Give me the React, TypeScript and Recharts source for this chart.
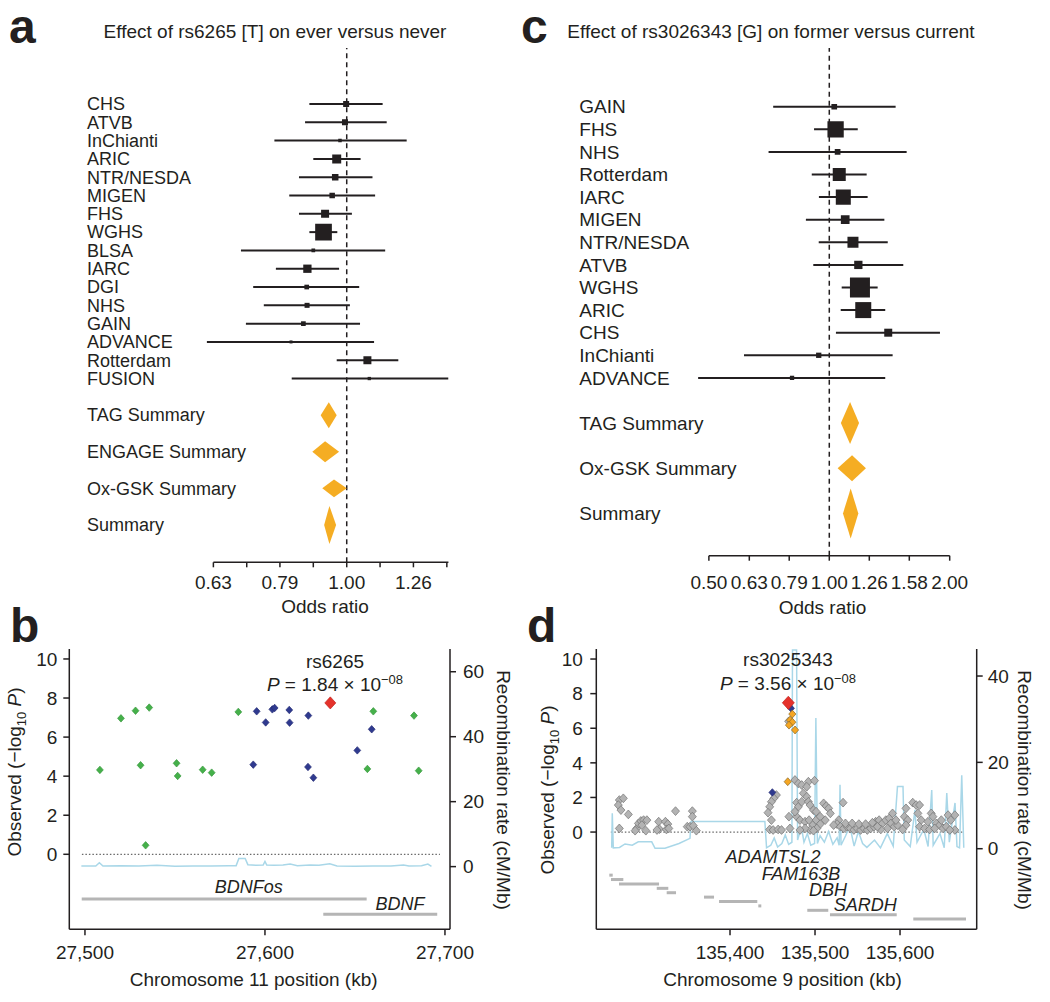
import React from 'react';
import {
  ScatterChart, ComposedChart, Scatter, Line, XAxis, YAxis, ZAxis,
  ErrorBar, ReferenceLine,
} from 'recharts';

const FONT = '"Liberation Sans", Arial, Helvetica, sans-serif';
const FS = 19;
const INK = '#231f20';
const GOLD = '#f5ad23';
const GENE = '#b5b5b5';
const RECOMB = '#a9d7e8';

// ---- panel a: rs6265 [T], ever vs never ----
const studiesA = ['CHS', 'ATVB', 'InChianti', 'ARIC', 'NTR/NESDA', 'MIGEN', 'FHS', 'WGHS', 'BLSA', 'IARC', 'DGI', 'NHS', 'GAIN', 'ADVANCE', 'Rotterdam', 'FUSION'];
const orA = [0.998, 0.994, 0.977, 0.966, 0.961, 0.951, 0.928, 0.923, 0.891, 0.873, 0.871, 0.872, 0.861, 0.825, 1.074, 1.081];
const loA = [0.879, 0.866, 0.779, 0.891, 0.848, 0.82, 0.848, 0.879, 0.694, 0.783, 0.724, 0.751, 0.706, 0.617, 0.966, 0.827];
const hiA = [1.132, 1.148, 1.23, 1.049, 1.093, 1.103, 1.018, 0.968, 1.142, 0.974, 1.044, 1.011, 1.047, 1.099, 1.195, 1.42];
const weightA = [12.9, 12.9, 4.4, 29, 15.2, 10.8, 22.9, 100, 4.9, 24.7, 7.9, 9, 7.9, 3.2, 22.9, 3.9];
const summaryA = ['TAG Summary', 'ENGAGE Summary', 'Ox-GSK Summary', 'Summary'];
const sumOrA = [0.94, 0.928, 0.957, 0.942];
const sumLoA = [0.914, 0.888, 0.919, 0.925];
const sumHiA = [0.966, 0.974, 1.0, 0.964];
const sumSpanA = [1.42, 1.15, 0.98, 2.08];
const ticksA = [0.631, 0.708, 0.794, 0.891, 1, 1.122, 1.259, 1.413];
const tickLabelsA = ['0.63', '', '0.79', '', '1.00', '', '1.26', ''];

// ---- panel c: rs3026343 [G], former vs current ----
const studiesC = ['GAIN', 'FHS', 'NHS', 'Rotterdam', 'IARC', 'MIGEN', 'NTR/NESDA', 'ATVB', 'WGHS', 'ARIC', 'CHS', 'InChianti', 'ADVANCE'];
const orC = [1.029, 1.037, 1.049, 1.059, 1.084, 1.096, 1.146, 1.182, 1.193, 1.216, 1.404, 0.941, 0.807];
const loC = [0.724, 0.916, 0.705, 0.904, 0.942, 0.874, 0.941, 0.912, 1.074, 1.068, 1.039, 0.612, 0.47];
const hiC = [1.465, 1.178, 1.561, 1.24, 1.247, 1.373, 1.4, 1.531, 1.321, 1.38, 1.891, 1.44, 1.38];
const weightC = [8.1, 66.4, 8.1, 42.3, 56.3, 18.9, 30.3, 17.2, 100, 64, 16, 7, 4.6];
const summaryC = ['TAG Summary', 'Ox-GSK Summary', 'Summary'];
const sumOrC = [1.127, 1.14, 1.131];
const sumLoC = [1.069, 1.049, 1.082];
const sumHiC = [1.187, 1.235, 1.182];
const sumSpanC = [1.86, 1.15, 2.21];
const ticksC = [0.5, 0.631, 0.794, 1, 1.259, 1.585, 2];
const tickLabelsC = ['0.50', '0.63', '0.79', '1.00', '1.26', '1.58', '2.00'];

// ---- panel b: chromosome 11 region ----
const greenKbB = [27508.3, 27520, 27528.1, 27535.7, 27530.9, 27533.7, 27550.9, 27551.5, 27565.4, 27570.4, 27585.2, 27660.2, 27656.9, 27682.8, 27685.4];
const greenPB = [4.32, 6.96, 7.35, 7.51, 4.56, 0.46, 4.66, 4.01, 4.33, 4.18, 7.29, 7.32, 4.37, 7.1, 4.28];
const blueKbB = [27595.4, 27600.4, 27604.1, 27605.4, 27613.5, 27613.7, 27624.1, 27593.5, 27623.9, 27626.9, 27651.3, 27659.3];
const bluePB = [7.32, 6.75, 7.42, 7.49, 7.39, 6.74, 7.1, 4.59, 4.47, 3.92, 5.32, 6.4];
const leadKbB = [27636.3];
const leadPB = [7.75];
const recKbB = [27498, 27506, 27508, 27510, 27520, 27530, 27540, 27550, 27560, 27570, 27580, 27584, 27585.5, 27589, 27590.5, 27595, 27599, 27600, 27601, 27605, 27610, 27614, 27618, 27625, 27630, 27636, 27640, 27650, 27660, 27670, 27677, 27680, 27687, 27690.5, 27692.5];
const recRateB = [0.2, 0.2, 1.2, 0.2, 0.3, 0.2, 0.4, 0.1, 0.2, 0.2, 0.3, 0.3, 2.5, 2.5, 0.6, 0.4, 0.5, 1.6, 0.5, 0.4, 0.5, 0.8, 0.3, 0.5, 0.4, 0.9, 0.2, 0.1, 0.2, 0.2, 0.5, 0.2, 0.3, 0.8, 0.1];
const genesB = [
  { name: 'BDNFos', start: 27498.2, end: 27656.5, row: 0, labelKb: 27591, labelP: -1.66 },
  { name: 'BDNF', start: 27632.4, end: 27695.7, row: 1, labelKb: 27675, labelP: -2.54 },
];
const regionB: [number, number] = [27498.3, 27697.2];

// ---- panel d: chromosome 9 region ----
const grayKbD = [
  135269.8, 135274.5, 135268.6, 135271.7, 135280.4, 135269.8, 135290.3, 135292.3, 135295.1, 135298.3, 135302.2, 135296.3, 135301.0, 135316.1,
  135316.9, 135314.1, 135324.0, 135326.8, 135325.2, 135328.0, 135335.9, 135349.7, 135352.9, 135355.7, 135355.7, 135356.8, 135360.4, 135288.4,
  135454.6, 135451.5, 135448.7, 135446.7, 135444.7, 135448.7, 135446.7, 135450.7, 135456.6, 135460.6, 135469.3, 135470.5, 135469.0,
  135476.4, 135480.4, 135484.3, 135492.2, 135499.4, 135490.3, 135486.3, 135478.4, 135480.4, 135484.3, 135490.3, 135492.2, 135494.2,
  135498.2, 135501.3, 135478.4, 135476.4, 135482.3, 135488.3, 135493.0, 135497.4, 135501.3, 135506.1, 135510.1, 135513.2, 135516.0,
  135518.0, 135512.0, 135506.1, 135502.1, 135494.2, 135488.3, 135482.3, 135498.2,
  135527.9, 135533.0, 135525.9, 135529.9, 135521.9, 135533.8, 135537.8, 135541.7, 135545.7, 135549.6, 135553.6, 135557.6, 135561.5,
  135565.5, 135569.4, 135571.4, 135575.4, 135579.3, 135583.3, 135587.3, 135591.2, 135589.2, 135593.2, 135597.1, 135595.2, 135585.3,
  135577.4, 135607.0, 135605.1, 135609.0, 135607.0, 135603.1, 135615.0, 135619.0, 135623.0, 135621.0, 135624.9, 135623.0, 135628.9,
  135632.8, 135636.7, 135638.7, 135642.7, 135646.6, 135648.6, 135650.6, 135654.5, 135656.5, 135659.7, 135664.5, 135664.5, 135658.5,
  135634.8, 135640.8, 135535.8, 135543.7, 135551.6, 135559.5, 135567.5, 135573.4,
];
const grayPD = [
  1.85, 1.95, 1.56, 1.27, 1.02, 0.21, 0.21, 0.5, 0.64, 0.69, 0.69, 0.4, 0.08, 0.6,
  0.17, 0.12, 0.6, 0.46, 0.15, 0.21, 1.21, 0.31, 0.31, 1.21, 0.89, 0.37, 0.08, 0.08,
  2.14, 1.95, 1.75, 1.46, 1.12, 0.69, 0.15, 0.12, 0.15, 0.12, 0.89, 0.21, 6.4,
  3.01, 2.81, 2.72, 2.91, 2.97, 2.62, 2.24, 1.7, 1.46, 1.75, 2.04, 1.75, 1.56,
  1.27, 1.18, 0.89, 1.18, 0.69, 0.6, 0.69, 0.4, 0.69, 0.89, 1.66, 1.5, 1.37,
  1.08, 0.69, 0.46, 0.21, 0.12, 0.21, 0.12, 0.08,
  0.69, 1.7, 0.46, 0.31, 0.4, 0.21, 0.31, 0.21, 0.12, 0.21, 0.12, 0.21, 0.12,
  0.21, 0.31, 0.6, 0.69, 0.5, 0.69, 0.79, 1.08, 0.5, 0.31, 0.4, 0.69, 0.21,
  0.15, 1.37, 0.89, 0.69, 0.4, 0.15, 1.7, 1.56, 1.56, 1.08, 0.69, 0.31, 0.21,
  0.6, 1.08, 0.89, 0.5, 0.4, 0.69, 0.21, 0.31, 0.98, 0.69, 0.98, 0.12, 0.12,
  0.15, 0.21, 0.5, 0.5, 0.46, 0.46, 0.54, 0.31,
];
const orangeKbD = [135473.3, 135470.6, 135473.3, 135469.4, 135476.5, 135467.9];
const orangePD = [6.82, 6.47, 6.35, 6.18, 5.9, 2.91];
const blueKbD = [135471.8, 135449.8];
const bluePD = [7.15, 2.29];
const leadKbD = [135468.6];
const leadPD = [7.47];
const recKbD = [
  135260.8, 135261.5, 135262.7, 135270, 135276.5, 135285, 135292.1, 135307.9, 135311.8, 135323.5, 135340, 135352.9, 135354.1, 135441,
  135443, 135448, 135452, 135456, 135461, 135465, 135469, 135472.8, 135473.5, 135478.3, 135479.5, 135484, 135487, 135491, 135495,
  135499.5, 135501, 135502.8, 135506, 135511, 135516, 135521, 135526, 135528.4, 135529.4, 135530.6, 135536, 135541, 135546, 135551,
  135556, 135561, 135570, 135577, 135585, 135592, 135597, 135603.5, 135605, 135612, 135617.6, 135620, 135628, 135633, 135637.3,
  135639, 135647, 135652, 135655, 135658, 135664.7, 135667, 135670, 135672.6, 135675,
];
const recRateD = [
  0.2, 8.2, 0.2, 0.3, 1.1, 0.8, 1.6, 1.6, 0.1, 0.1, 1.2, 2.4, 6.3, 6.3,
  0.2, 0.8, 2.5, 0.4, 1.2, 3.2, 1, 1.5, 46, 46, 2, 5, 1.5, 3.5, 0.8,
  1.2, 30.3, 1.2, 3, 1.5, 4, 1, 2.5, 0.8, 14.8, 0.8, 3, 5.2, 0.6, 4,
  1.2, 0.3, 2, 0.2, 3.5, 0.6, 14.4, 14.4, 2, 0.5, 9, 1.5, 4.5, 0.5, 13.6,
  0.8, 3.5, 0.2, 12.9, 1.5, 10.6, 0.5, 0.2, 17, 0.2,
];
const genesD = [
  { start: 135258.0, end: 135262.0, row: 0 },
  { start: 135260.0, end: 135274.5, row: 1 },
  { start: 135269.4, end: 135316.5, row: 2 },
  { start: 135313.8, end: 135327.4, row: 3 },
  { start: 135325.5, end: 135336.5, row: 4 },
  { start: 135369.4, end: 135381.2, row: 5 },
  { start: 135387.1, end: 135432.1, row: 6 },
  { start: 135433.3, end: 135436.8, row: 7 },
  { start: 135490.9, end: 135515.6, row: 8 },
  { start: 135517.6, end: 135596.1, row: 9 },
  { start: 135615.6, end: 135677.6, row: 10 },
];
const geneNamesD = ['ADAMTSL2', 'FAM163B', 'DBH', 'SARDH'];
const geneLabelKbD = [135450.7, 135483.5, 135515.2, 135559];
const geneLabelPD = [-1.45, -2.39, -3.35, -4.18];
const regionD: [number, number] = [135259.8, 135675.6];

const zip = (kb: number[], p: number[]) => kb.map((k, i) => ({ kb: k, p: p[i] }));

const diamondPath = (lp: any) => {
  const pts = (lp.points || []) as { x: number; y: number }[];
  if (!pts.length) return <g />;
  return <path d={'M' + pts.map((q) => `${q.x},${q.y}`).join('L') + 'Z'} fill={GOLD} stroke="none" />;
};

const snpShape = (fill: string, stroke: string, r: number) => (s: any) => (
  <polygon
    points={`${s.cx},${s.cy - r * 1.1} ${s.cx + r},${s.cy} ${s.cx},${s.cy + r * 1.1} ${s.cx - r},${s.cy}`}
    fill={fill}
    stroke={stroke}
    strokeWidth={0.7}
  />
);

const geneText = (s: any) => (
  <text x={s.cx} y={s.cy} dy="0.35em" textAnchor="middle" fontSize={18} fontStyle="italic" fill={INK} fontFamily={FONT}>
    {s.payload?.name ?? s.name}
  </text>
);

type ForestProps = {
  names: string[]; or: number[]; lo: number[]; hi: number[]; weight: number[];
  sumNames: string[]; sumOr: number[]; sumLo: number[]; sumHi: number[]; sumSpan: number[];
  ticks: number[]; tickLabels: string[]; axisFrom: number; axisTo: number;
  width: number; height: number; labelWidth: number; labelX: number; right: number; bottom: number;
  xDomain: [number, number]; yDomain: [number, number]; zMax: number; tickGap: number; titleOffset: number;
  rowFont: number;
};

function Forest(p: ForestProps) {
  const rows = p.names.map((name, i) => ({
    name, row: i, or: p.or[i], err: [p.or[i] - p.lo[i], p.hi[i] - p.or[i]], w: p.weight[i],
  }));
  const sumRows = p.sumNames.map((name, j) => ({ name, row: p.names.length - 1 + 2 * (j + 1) }));
  const diamonds = sumRows.map((s, j) => [
    { or: p.sumLo[j], row: s.row },
    { or: p.sumOr[j], row: s.row - p.sumSpan[j] / 2 },
    { or: p.sumHi[j], row: s.row },
    { or: p.sumOr[j], row: s.row + p.sumSpan[j] / 2 },
  ]);
  const labelOf = new Map<number, string>();
  [...rows, ...sumRows].forEach((r) => labelOf.set(r.row, r.name));
  const rowTicks = Array.from(labelOf.keys());
  const yBottom = p.yDomain[1];
  const axisText = { fontSize: FS, fill: INK, fontFamily: FONT };

  return (
    <ScatterChart width={p.width} height={p.height} margin={{ top: 48, right: p.right, bottom: p.bottom, left: 0 }}>
      <XAxis
        type="number" dataKey="or" scale="log" domain={p.xDomain} allowDataOverflow
        ticks={p.ticks} interval={0} tickFormatter={(_v: number, i: number) => p.tickLabels[i]}
        axisLine={false} tickSize={5} tickMargin={p.tickGap}
        tickLine={{ stroke: INK, strokeWidth: 1.5 }} tick={axisText} height={60}
        label={{ value: 'Odds ratio', position: 'insideBottom', offset: p.titleOffset, ...axisText }}
      />
      <YAxis
        type="number" dataKey="row" domain={p.yDomain} reversed allowDataOverflow
        ticks={rowTicks} interval={0} width={p.labelWidth} axisLine={false} tickLine={false}
        tick={(t: any) => (
          <text x={p.labelX} y={t.y} dy="0.35em" fontSize={p.rowFont} fill={INK} fontFamily={FONT}>
            {labelOf.get(t.payload.value)}
          </text>
        )}
      />
      <ZAxis type="number" dataKey="w" domain={[0, 100]} range={[0, p.zMax]} />
      <ReferenceLine x={1} stroke={INK} strokeWidth={1.5} strokeDasharray="5 4" />
      <ReferenceLine
        segment={[{ x: p.axisFrom, y: yBottom }, { x: p.axisTo, y: yBottom }]}
        stroke={INK} strokeWidth={1.5} ifOverflow="visible"
      />
      <Scatter data={rows} dataKey="or" fill={INK} shape="square" isAnimationActive={false}>
        <ErrorBar dataKey="err" direction="x" width={0} stroke={INK} strokeWidth={2} isAnimationActive={false} />
      </Scatter>
      {diamonds.map((d, j) => (
        <Scatter key={j} data={d} dataKey="or" isAnimationActive={false} shape={() => <g />} line={diamondPath} />
      ))}
    </ScatterChart>
  );
}

type Group = { data: { kb: number; p: number }[]; fill: string; stroke: string; r: number };
type LocusProps = {
  width: number; height: number; leftW: number; rightW: number;
  xDomain: [number, number]; xTicks: number[]; leftDomain: [number, number];
  rightDomain: [number, number]; rightTicks: number[];
  groups: Group[]; recomb: { kb: number; rate: number }[];
  genes: { start: number; end: number; row: number }[]; geneTop: number; geneStep: number;
  geneLabels: { name: string; kb: number; p: number }[];
  region: [number, number]; xTitle: string; titleDx: number; leftGap: number; rightGap: number;
};

function Locus(p: LocusProps) {
  const axisText = { fontSize: FS, fill: INK, fontFamily: FONT };
  const axisLine = { stroke: INK, strokeWidth: 1.5 };
  return (
    <ComposedChart width={p.width} height={p.height} margin={{ top: 29, right: 0, bottom: 0, left: 0 }}>
      <XAxis
        type="number" dataKey="kb" domain={p.xDomain} allowDataOverflow ticks={p.xTicks} interval={0}
        tickFormatter={(v: number) => v.toLocaleString('en-US')} tickSize={6} tickMargin={10}
        height={p.height - 29 - 280.3} axisLine={axisLine} tickLine={axisLine} tick={axisText}
        label={{ value: p.xTitle, position: 'insideBottom', offset: 16, dx: p.titleDx, ...axisText }}
      />
      <YAxis
        yAxisId="left" type="number" domain={p.leftDomain} allowDataOverflow ticks={[0, 2, 4, 6, 8, 10]}
        interval={0} width={p.leftW} tickSize={6} tickMargin={p.leftGap} axisLine={axisLine} tickLine={axisLine} tick={axisText}
      />
      <YAxis
        yAxisId="right" orientation="right" type="number" domain={p.rightDomain} allowDataOverflow
        ticks={p.rightTicks} interval={0} width={p.rightW} tickSize={6} tickMargin={p.rightGap}
        axisLine={axisLine} tickLine={axisLine} tick={axisText}
      />
      <ReferenceLine
        yAxisId="left" segment={[{ x: p.region[0], y: 0 }, { x: p.region[1], y: 0 }]}
        stroke="#6a6a6a" strokeWidth={1.2} strokeDasharray="1.5 2"
      />
      {p.genes.map((g, i) => (
        <ReferenceLine
          key={i} yAxisId="left"
          segment={[{ x: g.start, y: p.geneTop - p.geneStep * g.row }, { x: g.end, y: p.geneTop - p.geneStep * g.row }]}
          stroke={GENE} strokeWidth={3}
        />
      ))}
      <Line
        data={p.recomb} dataKey="rate" yAxisId="right" type="linear" stroke={RECOMB} strokeWidth={1.5}
        dot={false} activeDot={false} isAnimationActive={false}
      />
      {p.groups.map((g, i) => (
        <Scatter key={i} data={g.data} dataKey="p" yAxisId="left" shape={snpShape(g.fill, g.stroke, g.r)} isAnimationActive={false} />
      ))}
      <Scatter data={p.geneLabels} dataKey="p" yAxisId="left" shape={geneText} isAnimationActive={false} />
    </ComposedChart>
  );
}

const Abs = ({ x, y, children, style }: { x: number; y: number; children: React.ReactNode; style?: React.CSSProperties }) => (
  <div style={{ position: 'absolute', left: x, top: y, whiteSpace: 'nowrap', ...style }}>{children}</div>
);

const Centered = ({ x, y, angle = 0, size = FS, children }: { x: number; y: number; angle?: number; size?: number; children: React.ReactNode }) => (
  <div
    style={{
      position: 'absolute', left: x, top: y, whiteSpace: 'nowrap', fontSize: size, lineHeight: `${size + 4}px`,
      transform: `translate(-50%, -50%) rotate(${angle}deg)`,
    }}
  >
    {children}
  </div>
);

const Letter = ({ x, y, children }: { x: number; y: number; children: React.ReactNode }) => (
  <Abs x={x} y={y} style={{ fontSize: 48, fontWeight: 700, lineHeight: '54px' }}>{children}</Abs>
);

const Observed = () => (
  <span>Observed (−log<sub style={{ fontSize: 13 }}>10</sub> <i>P</i>)</span>
);

const PValue = ({ v }: { v: string }) => (
  <span><i>P</i> = {v} × 10<sup style={{ fontSize: 13 }}>−08</sup></span>
);

export default function App() {
  const recombB = recKbB.map((k, i) => ({ kb: k, rate: recRateB[i] }));
  const recombD = recKbD.map((k, i) => ({ kb: k, rate: recRateD[i] }));
  const groupsB: Group[] = [
    { data: zip(greenKbB, greenPB), fill: '#45b04a', stroke: '#3a9a3f', r: 3.4 },
    { data: zip(blueKbB, bluePB), fill: '#2f3a8f', stroke: '#252d75', r: 3.4 },
    { data: zip(leadKbB, leadPB), fill: '#e5322b', stroke: '#c22520', r: 5.5 },
  ];
  const groupsD: Group[] = [
    { data: zip(grayKbD, grayPD), fill: '#b3b3b3', stroke: '#737373', r: 4 },
    { data: zip(blueKbD, bluePD), fill: '#2f3a8f', stroke: '#252d75', r: 3.4 },
    { data: zip(orangeKbD, orangePD), fill: '#f5a623', stroke: '#8a6a2a', r: 3.6 },
    { data: zip(leadKbD, leadPD), fill: '#e5322b', stroke: '#c22520', r: 6 },
  ];
  const labelsB = genesB.map((g) => ({ name: g.name, kb: g.labelKb, p: g.labelP }));
  const labelsD = geneNamesD.map((n, i) => ({ name: n, kb: geneLabelKbD[i], p: geneLabelPD[i] }));

  return (
    <div
      style={{
        position: 'absolute', left: 0, top: 0, width: 1050, height: 1002, background: '#fff',
        fontFamily: FONT, color: INK, overflow: 'hidden',
      }}
    >
      <Abs x={0} y={0}>
        <Forest
          names={studiesA} or={orA} lo={loA} hi={hiA} weight={weightA}
          sumNames={summaryA} sumOr={sumOrA} sumLo={sumLoA} sumHi={sumHiA} sumSpan={sumSpanA}
          ticks={ticksA} tickLabels={tickLabelsA} axisFrom={0.631} axisTo={1.4208}
          width={520} height={625} labelWidth={200} labelX={87} right={70} bottom={2.7}
          xDomain={[0.6025, 1.4285]} yDomain={[-3.06, 25.04]} zMax={279} tickGap={8} titleOffset={9.3}
          rowFont={18}
        />
      </Abs>
      <Abs x={520} y={0}>
        <Forest
          names={studiesC} or={orC} lo={loC} hi={hiC} weight={weightC}
          sumNames={summaryC} sumOr={sumOrC} sumLo={sumLoC} sumHi={sumHiC} sumSpan={sumSpanC}
          ticks={ticksC} tickLabels={tickLabelsC} axisFrom={0.5} axisTo={2}
          width={530} height={625} labelWidth={170} labelX={59.3} right={95} bottom={9.3}
          xDomain={[0.4485, 2.062]} yDomain={[-2.6, 19.87]} zMax={400} tickGap={14.6} titleOffset={1.3}
          rowFont={19}
        />
      </Abs>
      <Abs x={0} y={620}>
        <Locus
          width={520} height={382} leftW={69.3} rightW={70}
          xDomain={[27491.3, 27702.8]} xTicks={[27500, 27600, 27700]}
          leftDomain={[-3.84, 10.51]} rightDomain={[-19.3, 67]} rightTicks={[0, 20, 40, 60]}
          groups={groupsB} recomb={recombB} genes={genesB} geneTop={-2.29} geneStep={0.78}
          geneLabels={labelsB} region={regionB} xTitle="Chromosome 11 position (kb)" titleDx={-6}
          leftGap={6} rightGap={7}
        />
      </Abs>
      <Abs x={520} y={620}>
        <Locus
          width={530} height={382} leftW={76.3} rightW={73.3}
          xDomain={[135242.7, 135690.2]} xTicks={[135400, 135500, 135600]}
          leftDomain={[-5.62, 10.58]} rightDomain={[-18.67, 46.26]} rightTicks={[0, 20, 40]}
          groups={groupsD} recomb={recombD} genes={genesD} geneTop={-2.49} geneStep={0.254}
          geneLabels={labelsD} region={regionD} xTitle="Chromosome 9 position (kb)" titleDx={-4}
          leftGap={7.4} rightGap={5}
        />
      </Abs>

      <Letter x={9} y={0}>a</Letter>
      <Letter x={521} y={0}>c</Letter>
      <Letter x={10} y={599}>b</Letter>
      <Letter x={527} y={599}>d</Letter>

      <Centered x={275} y={31}>Effect of rs6265 [T] on ever versus never</Centered>
      <Centered x={771} y={31}>Effect of rs3026343 [G] on former versus current</Centered>

      <Centered x={335} y={661}>rs6265</Centered>
      <Centered x={335} y={682}><PValue v="1.84" /></Centered>
      <Centered x={788} y={659}>rs3025343</Centered>
      <Centered x={788} y={681}><PValue v="3.56" /></Centered>

      <Centered x={18} y={772} angle={-90}><Observed /></Centered>
      <Centered x={503} y={790} angle={90}>Recombination rate (cM/Mb)</Centered>
      <Centered x={551} y={790} angle={-90}><Observed /></Centered>
      <Centered x={1024} y={790} angle={90}>Recombination rate (cM/Mb)</Centered>
    </div>
  );
}
